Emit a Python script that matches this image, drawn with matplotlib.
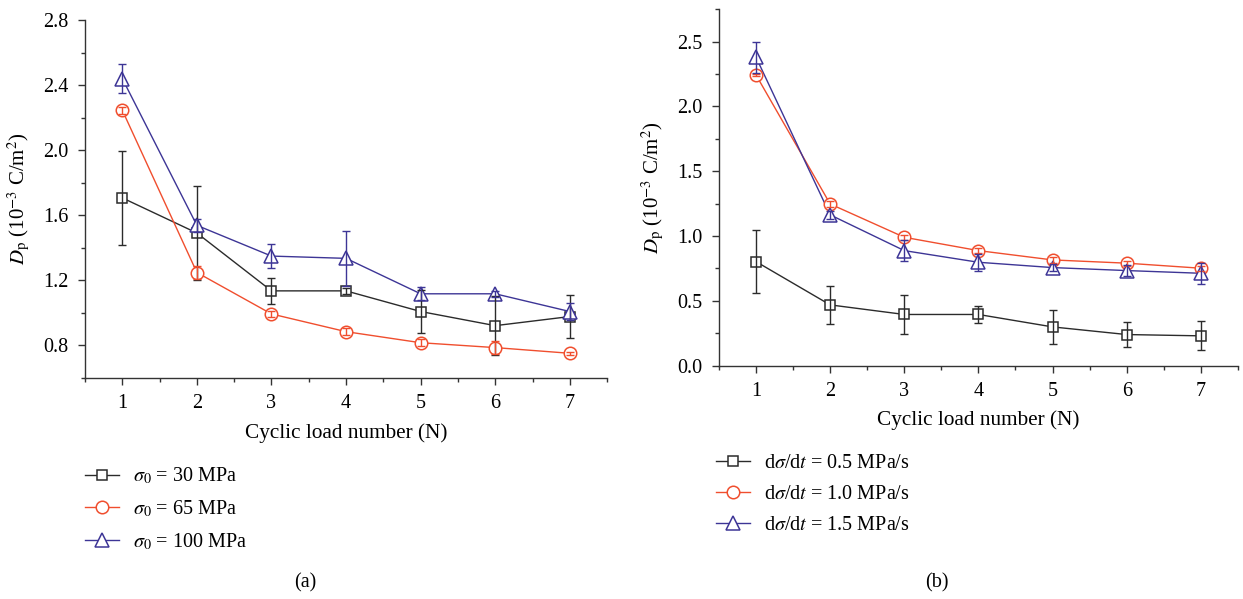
import matplotlib
matplotlib.use("Agg")
import matplotlib.pyplot as plt
from matplotlib.lines import Line2D
from matplotlib.ticker import MultipleLocator

plt.rcParams["font.family"] = ["Liberation Serif", "DejaVu Serif"]
plt.rcParams["mathtext.fontset"] = "stix"
plt.rcParams["font.size"] = 14

# Cyclic load number
N = [1, 2, 3, 4, 5, 6, 7]

# (a) different initial stress levels, Dp in 1e-3 C/m^2
dp_30 = [1.706, 1.49, 1.134, 1.134, 1.007, 0.92, 0.976]
err_30 = [0.29, 0.29, 0.08, 0.02, 0.13, 0.18, 0.13]
dp_65 = [2.245, 1.247, 0.992, 0.883, 0.815, 0.785, 0.75]
err_65 = [0.02, 0.04, 0.02, 0.02, 0.02, 0.04, 0.01]
dp_100 = [2.44, 1.537, 1.348, 1.334, 1.116, 1.116, 1.007]
err_100 = [0.09, 0.04, 0.074, 0.17, 0.04, 0.02, 0.05]
labels_a = [r"$\sigma_0$ = 30 MPa", r"$\sigma_0$ = 65 MPa", r"$\sigma_0$ = 100 MPa"]

# (b) different loading rates
dp_05 = [0.802, 0.468, 0.394, 0.394, 0.298, 0.239, 0.229]
err_05 = [0.245, 0.145, 0.147, 0.066, 0.13, 0.098, 0.113]
dp_10 = [2.243, 1.247, 0.99, 0.887, 0.815, 0.79, 0.751]
err_10 = [0.01, 0.02, 0.02, 0.02, 0.02, 0.02, 0.02]
dp_15 = [2.38, 1.163, 0.887, 0.797, 0.756, 0.733, 0.712]
err_15 = [0.12, 0.03, 0.08, 0.065, 0.03, 0.04, 0.08]
labels_b = [r"d$\sigma$/d$t$ = 0.5 MPa/s", r"d$\sigma$/d$t$ = 1.0 MPa/s",
            r"d$\sigma$/d$t$ = 1.5 MPa/s"]

BLACK = "#2b2b2b"
RED = "#f04e2e"
BLUE = "#3d3596"
STYLES = [(BLACK, "s", 7.5), (RED, "o", 9.0), (BLUE, "^", 10.0)]
YLABEL = r"$D_\mathrm{p}$ (10$^{-3}$ C/m$^2$)"


def draw_series(ax, y, err, color, marker, ms):
    ax.plot(N, y, color=color, lw=1.0, zorder=2)
    ax.plot(N, y, ls="none", marker=marker, ms=ms, mfc="white",
            mec=color, mew=1.1, zorder=3)
    ax.errorbar(N, y, yerr=err, fmt="none", ecolor=color, elinewidth=1.0,
                capsize=2.7, capthick=1.0, zorder=4)


def style_axes(ax, ylim, ymajor, yminor):
    ax.set_xlim(0.5, 7.5)
    ax.set_ylim(*ylim)
    ax.xaxis.set_major_locator(MultipleLocator(1))
    ax.xaxis.set_minor_locator(MultipleLocator(0.5))
    ax.yaxis.set_major_locator(MultipleLocator(ymajor))
    ax.yaxis.set_minor_locator(MultipleLocator(yminor))
    for s in ("top", "right"):
        ax.spines[s].set_visible(False)
    for s in ("left", "bottom"):
        ax.spines[s].set_linewidth(1.0)
        ax.spines[s].set_color("#333333")
    ax.tick_params(which="major", direction="out", length=4.8, width=1.0,
                   color="#333333", labelsize=14.5, pad=7)
    ax.tick_params(which="minor", direction="out", length=2.8, width=1.0,
                   color="#333333")
    ax.set_xlabel("Cyclic load number (N)", fontsize=15.3, labelpad=7)
    ax.set_ylabel(YLABEL, fontsize=15, labelpad=8)


def add_legend(fig, labels, x_px, y_px):
    handles = [Line2D([], [], color=c, lw=1.0, marker=m, ms=ms, mfc="white",
                      mec=c, mew=1.1) for c, m, ms in STYLES]
    fig.legend(handles, labels, loc="upper left",
               bbox_to_anchor=(x_px / 1243, 1 - y_px / 599),
               frameon=False, borderpad=0, borderaxespad=0,
               handlelength=1.7, handletextpad=0.7, labelspacing=0.6,
               fontsize=14.5)


fig = plt.figure(figsize=(12.43, 5.99), dpi=100)

ax_a = fig.add_axes([0.0684, 0.3695, 0.42, 0.597])
for (c, m, ms), y, e in zip(STYLES, [dp_30, dp_65, dp_100], [err_30, err_65, err_100]):
    draw_series(ax_a, y, e, c, m, ms)
style_axes(ax_a, (0.6, 2.8), 0.4, 0.2)

ax_b = fig.add_axes([0.5784, 0.3898, 0.4175, 0.5947])
for (c, m, ms), y, e in zip(STYLES, [dp_05, dp_10, dp_15], [err_05, err_10, err_15]):
    draw_series(ax_b, y, e, c, m, ms)
style_axes(ax_b, (0.0, 2.75), 0.5, 0.25)

add_legend(fig, labels_a, 85, 466)
add_legend(fig, labels_b, 716, 454)

fig.text(305 / 1243, 1 - 583 / 599, "(a)", ha="center", va="center", fontsize=14.5)
fig.text(937 / 1243, 1 - 583 / 599, "(b)", ha="center", va="center", fontsize=14.5)

fig.savefig("out.png", dpi=100)
